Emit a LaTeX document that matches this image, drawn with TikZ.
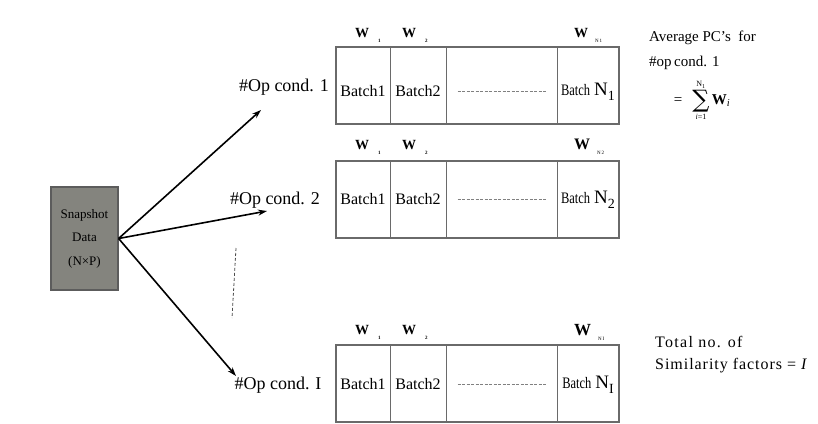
\documentclass[tikz,border=0pt]{standalone}
\usepackage{fontspec}
\usepackage{graphicx}
\setmainfont{Liberation Serif}
\newfontfamily\sumfont{DejaVu Serif}
\usetikzlibrary{arrows.meta}
\definecolor{tblgray}{HTML}{6A6A6A}
\definecolor{snapfill}{HTML}{84847E}
\definecolor{snapdraw}{HTML}{5C5C5C}
\begin{document}
\begin{tikzpicture}[x=1pt,y=-1pt,
  cell/.style={draw=tblgray, line width=1pt, minimum height=77pt, inner sep=0pt,
    outer sep=0pt, anchor=north west},
  frame/.style={draw=tblgray, line width=1.8pt},
  celltext/.style={font=\fontsize{16}{16}\selectfont, inner sep=0pt},
  wlabel/.style={font=\fontsize{14}{14}\selectfont, inner sep=0pt, anchor=west},
  oplabel/.style={font=\fontsize{18}{18}\selectfont, inner sep=0pt},
  note/.style={font=\fontsize{15}{15}\selectfont, inner sep=0pt, anchor=west},
  sumpart/.style={inner sep=0pt},
  arrow/.style={line width=1.6pt, -{Stealth[length=9pt,width=6pt]}},
  dashline/.style={draw=gray, line width=0.8pt, dash pattern=on 3pt off 1.5pt},
  vdash/.style={draw=black!70, line width=0.8pt, dash pattern=on 3pt off 2pt}]
\useasboundingbox (0,0) rectangle (818,423);

% source data block
\node[draw=snapdraw, fill=snapfill, line width=1.2pt, minimum width=67pt,
  minimum height=103pt] (snap) at (84.5,238.5) {};
\node[align=center, inner sep=0pt, font=\fontsize{13}{23.5}\selectfont]
  (snaptext) at (snap.center) {Snapshot\\Data\\(N×P)};

% arrow tips and operating-condition labels
\coordinate (tip1) at (261,110);
\coordinate (tip2) at (267,211);
\coordinate (tip3) at (236,376);
\draw[arrow] (snap.east) -- (tip1);
\draw[arrow] (snap.east) -- (tip2);
\draw[arrow] (snap.east) -- (tip3);
\node[oplabel] (op1) at (284,87) {\#Op cond. 1};
\node[oplabel] (op2) at (275,200) {\#Op cond. 2};
\node[oplabel] (op3) at (278,385) {\#Op cond. I};
\coordinate (vd1) at (236,248);
\coordinate (vd2) at (232,318);
\draw[vdash] (vd1) -- (vd2);

% batch tables: index / top edge / subscript / text offset / W offset / last W size
\foreach \t/\ty/\sub/\dy/\wy/\ws in {1/47/1/6/12/14, 2/161/2/0/14/16, 3/345/I/1/13/17}{
  \node[cell, minimum width=54pt]  (t\t c1) at (336,\ty) {};
  \node[cell, minimum width=56pt]  (t\t c2) at (390,\ty) {};
  \node[cell, minimum width=111pt] (t\t c3) at (446,\ty) {};
  \node[cell, minimum width=62pt]  (t\t c4) at (557,\ty) {};
  \draw[frame] (t\t c1.north west) rectangle (t\t c4.south east);
  \node[celltext] (b\t a) at ([yshift=-\dy pt]t\t c1.center) {Batch1};
  \node[celltext] (b\t b) at ([yshift=-\dy pt]t\t c2.center) {Batch2};
  \draw[dashline] ([xshift=-44pt,yshift=-\dy pt]t\t c3.center)
    -- ([xshift=44pt,yshift=-\dy pt]t\t c3.center);
  \node[celltext] (b\t n) at ([yshift=-\dy pt]t\t c4.center)
    {\scalebox{0.78}[1]{Batch}\ {\fontsize{19}{19}\selectfont N}\raisebox{-5pt}{\fontsize{14}{14}\selectfont\sub}};
  \node[wlabel] (w\t a) at ([xshift=19pt,yshift=\wy pt]t\t c1.north west)
    {\textbf{W}\hspace{9pt}\raisebox{-5pt}{\fontsize{5}{5}\selectfont\textbf{1}}};
  \node[wlabel] (w\t b) at ([xshift=12pt,yshift=\wy pt]t\t c2.north west)
    {\textbf{W}\hspace{9pt}\raisebox{-5pt}{\fontsize{5}{5}\selectfont\textbf{2}}};
  \node[wlabel, font=\fontsize{\ws}{\ws}\selectfont] (w\t n) at ([xshift=17pt,yshift=\wy pt]t\t c4.north west)
    {\textbf{W}\hspace{7pt}\raisebox{-5pt}{\fontsize{5}{5}\selectfont N\,\sub}};
}

% notes on the right
\node[note] (avg1) at (649,38) {Average PC's\ \ for};
\node[note] (avg2) at (649,63) {\#op\,cond. 1};
% sum of the weights, set piece by piece
\node[sumpart, font=\fontsize{15}{15}\selectfont] (sumeq) at (678,101) {=};
\node[sumpart, font=\sumfont\fontsize{24}{24}\selectfont] (sumsig) at (701,101) {∑};
\node[sumpart, font=\fontsize{8}{8}\selectfont, anchor=south]
  (sumtop) at ([yshift=1.5pt]sumsig.north) {N\textsubscript{1}};
\node[sumpart, font=\fontsize{8}{8}\selectfont, anchor=north]
  (sumbot) at ([yshift=-1.5pt]sumsig.south) {\textit{i}=1};
\node[sumpart, font=\fontsize{15}{15}\selectfont, anchor=west] (sumw)
  at ([xshift=2pt]sumsig.east) {\textbf{W}\textsubscript{\textit{i}}};
\node[note, font=\fontsize{16}{16}\selectfont\addfontfeature{LetterSpace=8}]
  (tot1) at (655,342) {Total no. of};
\node[note, font=\fontsize{16}{16}\selectfont\addfontfeature{LetterSpace=6}]
  (tot2) at (655,366) {Similarity factors = \textit{I}};
\end{tikzpicture}
\end{document}
